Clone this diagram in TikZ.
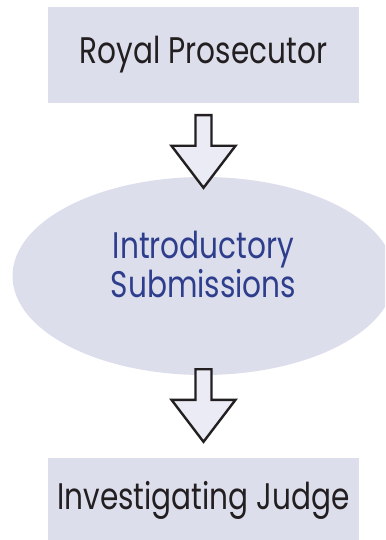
\documentclass[tikz,border=0pt]{standalone}
\usepackage{fontspec}
\setmainfont{Poppins}[FakeStretch=0.8]
\usetikzlibrary{positioning,shapes,calc}

\definecolor{boxfill}{RGB}{220,222,236}
\definecolor{inktext}{RGB}{35,31,32}
\definecolor{bluetext}{RGB}{46,62,140}

\begin{document}
\begin{tikzpicture}[x=1pt, y=1pt]
	\tikzset{
		partybox/.style={rectangle, fill=boxfill, minimum width=311pt, inner sep=0pt, text=inktext, font=\fontsize{37}{40}\selectfont},
		actbubble/.style={ellipse, fill=boxfill, minimum width=382pt, minimum height=198pt, inner sep=0pt, text=bluetext, align=center, font=\fontsize{37}{37}\selectfont},
		hollowarrow/.style={draw=inktext, fill=boxfill!60!white, line width=2.4pt, line join=miter}
	}
	\useasboundingbox (0,0) rectangle (385,-540);
	\clip (0,0) rectangle (385,-540);

	\node[partybox, minimum height=96pt] (royal) at (203.5,-55) {Royal Prosecutor};
	\node[actbubble] (intro) at (203.5,-276) {\raisebox{6pt}[\height][\depth]{\begin{tabular}{@{}c@{}}Introductory\\Submissions\end{tabular}}};
	\node[partybox, minimum height=84pt] (judge) at (203.5,-500) {Investigating Judge};

	% block arrows between the steps
	\coordinate (a1) at ($(royal.south)+(0,-12)$);
	\coordinate (t1) at ($(intro.north)+(0,-11)$);
	\coordinate (a2) at ($(intro.south)+(0,6)$);
	\coordinate (t2) at ($(judge.north)+(0,16)$);
	\foreach \from/\to in {a1/t1, a2/t2}
		\draw[hollowarrow] ($(\from)+(-8,0)$) -- ($(\to)+(-8,42)$) -- ($(\to)+(-32,42)$) -- (\to)
			-- ($(\to)+(32,42)$) -- ($(\to)+(8,42)$) -- ($(\from)+(8,0)$) -- cycle;
\end{tikzpicture}
\end{document}
